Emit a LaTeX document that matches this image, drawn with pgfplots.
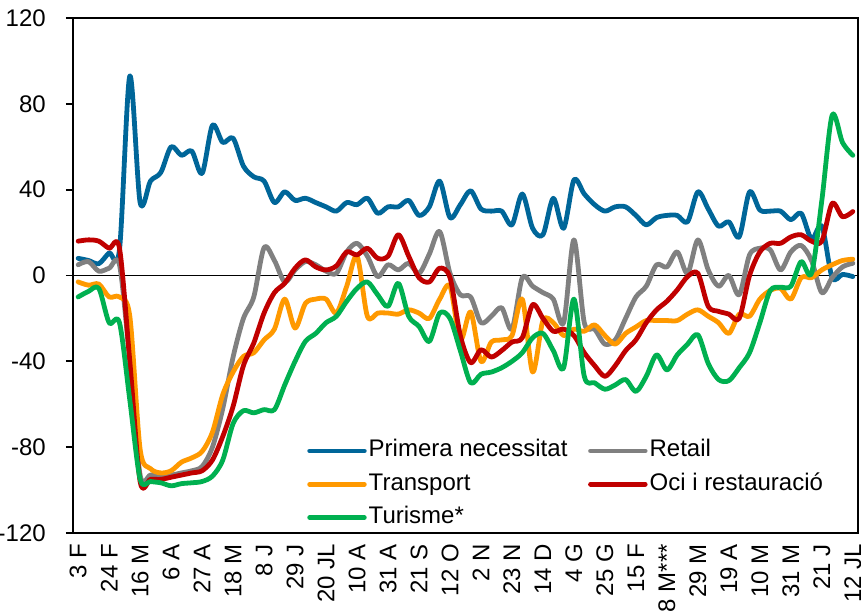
\documentclass[border=0pt]{standalone}
\usepackage{fontspec}
\setmainfont{Liberation Sans}
\usepackage{pgfplots}
\pgfplotsset{compat=1.18}
\usepackage{pgfplotstable}

\definecolor{cP}{RGB}{0,102,153}
\definecolor{cR}{RGB}{128,128,128}
\definecolor{cT}{RGB}{255,153,0}
\definecolor{cO}{RGB}{192,0,0}
\definecolor{cU}{RGB}{0,176,80}

\pgfplotstableread{
i P R T O U
0 8 5 -3 16 -10
1 7 6.5 -4.5 16.6 -7.4
2 5.5 2 -4 16 -6
3 10.5 3.4 -10 12.7 -22
4 12 5 -10 12.7 -22
5 93 -40 -19 -40 -58
6 34 -93 -81 -96 -95
7 44 -93 -90 -95 -96
8 48 -93 -92 -95 -96.6
9 60 -93 -91 -94 -98
10 56 -92 -87 -93 -97
11 58 -91 -85 -92 -96.6
12 47.6 -89 -82 -91 -96
13 70 -80 -73 -86 -93.5
14 62 -62 -55.5 -75 -86
15 64 -38 -45 -61 -69
16 51 -20 -37.7 -42 -63
17 46 -10 -36 -31.5 -64
18 44 13 -30 -17.5 -62.5
19 34 7 -25 -8 -62.5
20 39 -3 -11 -3.6 -51
21 35 2.6 -24.5 3.4 -40
22 36 6.5 -13 7.3 -30.7
23 34 5 -11 4 -27
24 32 2 -11 2.6 -22
25 30 1 -17.5 4.5 -19
26 34 11 -5 11 -12
27 33 15 9 9.6 -6
28 36 9 -19 12.7 -3
29 29 -0.5 -17.5 8 -9
30 32 5 -17.5 9 -14.4
31 32 2.6 -18 19 -3.6
32 35 5.7 -16 9 -19
33 28 1 -17.5 -1 -23.7
34 32 10 -20 -3 -30.7
35 44 20.5 -11 3.4 -17.5
36 27 1 -5 -1 -20
37 33 -9 -30 -28 -35
38 39.5 -10 -17 -40.6 -50
39 31 -22 -40 -34.6 -46
40 30 -19 -31 -38 -45
41 30 -15 -30 -35 -43
42 23.6 -25 -28 -31 -40
43 38 -1 -11 -29 -36
44 22 -5 -45 -13.6 -29
45 19 -8 -21 -20 -27
46 36 -11 -22 -26 -35
47 22 -22 -28 -25 -43
48 44.5 16.6 -25 -28 -11
49 38 -22 -26 -36 -47
50 33 -25 -23 -42 -50
51 30 -32 -28 -47 -53
52 32 -30 -32 -42 -51
53 32 -20 -27 -35 -48.5
54 28 -10 -24 -30 -54
55 23.6 -5 -21 -22 -47
56 27 5 -21 -16 -37
57 28 4 -21 -12 -44
58 28 11 -21 -6.7 -37
59 25 1 -18 -0.5 -32
60 39 16.6 -16 1 -27.6
61 31 2.6 -19 -14.4 -41
62 23 -5 -22 -16.7 -48.5
63 25 0 -27 -18 -49
64 18 -9 -18 -20 -43
65 39 9.6 -19 0 -36
66 30.5 12.7 -11 11 -22
67 30 12 -7 15 -7
68 30 2.6 -6 15 -5.5
69 26 11 -11 18 -5
70 29 14 -1 19 6.5
71 17 7 -1 16 1
72 23 -8 2.6 16 35
73 -1 -1 5 33.6 74.7
74 0.5 4 7 27.4 62
75 -0.5 5.7 7.6 29.8 56
}\data

\begin{document}
\begin{tikzpicture}
\begin{axis}[
  at={(0pt,0pt)}, anchor=south west,
  scale only axis, width=588.75pt, height=386.25pt,
  xmin=-0.5, xmax=75.5, ymin=-120, ymax=120,
  xtick={0,3,...,75},
  xticklabels={3 F,24 F,16 M,6 A,27 A,18 M,8 J,29 J,20 JL,10 A,31 A,21 S,12 O,2 N,23 N,14 D,4 G,25 G,15 F,8 M***,29 M,19 A,10 M,31 M,21 J,12 JL},
  ytick={-120,-80,...,120},
  ytick pos=left,
  tick align=outside,
  major tick length=5.25pt,
  xtick style={draw=none},
  ytick style={line width=1.4pt, black},
  axis line style={line width=1.4pt},
  tick label style={font=\fontsize{18}{20}\selectfont},
  /pgf/number format/assume math mode=true,
  xticklabel style={rotate=90, anchor=east, inner sep=0pt, xshift=-3pt},
  yticklabel style={anchor=east, inner sep=0pt, xshift=-15pt},
  legend columns=2,
  legend cell align=left,
  legend style={draw=none, fill=none, at={(0.293,0.191)}, anchor=north west,
    font=\fontsize{18}{20}\selectfont, row sep=5pt,
    nodes={inner sep=1.5pt, text height=13pt, text depth=4pt},
    /tikz/every even column/.append style={column sep=14pt}},
  legend image code/.code={\draw[#1, line cap=round] (0pt,0pt) -- (41pt,0pt);},
  every axis plot/.append style={line width=3.6pt, smooth, tension=0.5, line join=round, line cap=round},
]
\draw[line width=1.4pt] (axis cs:-0.5,0) -- (axis cs:75.5,0);
\addplot[cP] table[x=i,y=P]{\data};
\addlegendentry{Primera necessitat}
\addplot[cR] table[x=i,y=R]{\data};
\addlegendentry{Retail}
\addplot[cT] table[x=i,y=T]{\data};
\addlegendentry{Transport}
\addplot[cO] table[x=i,y=O]{\data};
\addlegendentry{Oci i restauració}
\addplot[cU] table[x=i,y=U]{\data};
\addlegendentry{Turisme*}
\end{axis}
\pgfresetboundingbox
\path[use as bounding box] (-54.75pt,-61.5pt) rectangle (591pt,399.75pt);
\end{tikzpicture}
\end{document}
